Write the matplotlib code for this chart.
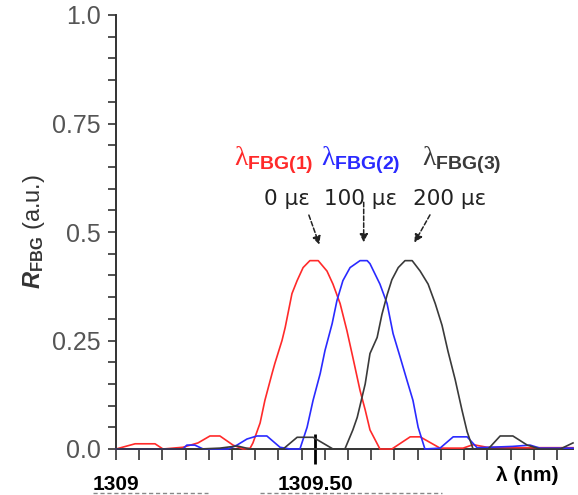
import numpy as np
import matplotlib
matplotlib.use("Agg")
import matplotlib.pyplot as plt
from matplotlib.ticker import FixedLocator
from matplotlib.lines import Line2D

plt.rcParams['mathtext.fontset'] = 'custom'
plt.rcParams['mathtext.rm'] = 'Liberation Serif'
plt.rcParams['mathtext.bf'] = 'Liberation Sans:bold'
plt.rcParams['mathtext.it'] = 'Liberation Sans:bold:italic'

# Daten
wl_red = [1309.000, 1309.048, 1309.098, 1309.118, 1309.168, 1309.206, 1309.236, 1309.261,
          1309.294, 1309.319, 1309.337, 1309.344, 1309.362, 1309.374, 1309.392, 1309.399,
          1309.417, 1309.425, 1309.442, 1309.455, 1309.470, 1309.487, 1309.508, 1309.530,
          1309.545, 1309.563, 1309.580, 1309.595, 1309.613, 1309.626, 1309.638, 1309.663,
          1309.693, 1309.739, 1309.764, 1309.814, 1309.872, 1309.897, 1309.932, 1310.015,
          1310.148]
r_red = [0.0, 0.012, 0.012, 0.0, 0.004, 0.014, 0.03, 0.03,
         0.009, 0.0, 0.002, 0.014, 0.06, 0.112, 0.174, 0.197,
         0.25, 0.28, 0.358, 0.388, 0.418, 0.434, 0.434, 0.41,
         0.38, 0.335, 0.273, 0.211, 0.135, 0.09, 0.044, 0.0,
         0.0, 0.028, 0.028, 0.002, 0.002, 0.01, 0.004, 0.003,
         0.003]

wl_blue = [1309.000, 1309.168, 1309.178, 1309.198, 1309.219, 1309.281, 1309.304, 1309.329,
           1309.354, 1309.379, 1309.412, 1309.437, 1309.462, 1309.480, 1309.495, 1309.513,
           1309.525, 1309.543, 1309.555, 1309.570, 1309.588, 1309.613, 1309.631, 1309.638,
           1309.663, 1309.681, 1309.696, 1309.714, 1309.731, 1309.746, 1309.759, 1309.776,
           1309.814, 1309.847, 1309.882, 1309.907, 1309.940, 1309.997, 1310.040, 1310.065,
           1310.148]
r_blue = [0.0, 0.0, 0.009, 0.009, 0.0, 0.0, 0.009, 0.023,
          0.03, 0.03, 0.004, 0.0, 0.0, 0.05, 0.112, 0.174,
          0.227, 0.289, 0.342, 0.388, 0.418, 0.434, 0.434, 0.427,
          0.38, 0.335, 0.266, 0.211, 0.158, 0.112, 0.05, 0.0,
          0.002, 0.028, 0.028, 0.003, 0.004, 0.006, 0.009, 0.002,
          0.002]

wl_black = [1309.000, 1309.211, 1309.261, 1309.304, 1309.337, 1309.420, 1309.455, 1309.495,
            1309.545, 1309.575, 1309.595, 1309.606, 1309.626, 1309.638, 1309.656, 1309.668,
            1309.681, 1309.693, 1309.709, 1309.726, 1309.744, 1309.764, 1309.784, 1309.802,
            1309.819, 1309.834, 1309.852, 1309.869, 1309.882, 1309.897, 1309.935, 1309.965,
            1309.997, 1310.033, 1310.065, 1310.116, 1310.148]
r_black = [0.0, 0.0, 0.002, 0.007, 0.0, 0.0, 0.027, 0.027,
           0.0, 0.0, 0.044, 0.073, 0.15, 0.22, 0.257, 0.31,
           0.355, 0.39, 0.418, 0.434, 0.434, 0.41, 0.38, 0.335,
           0.285, 0.225, 0.16, 0.09, 0.04, 0.0, 0.0, 0.03,
           0.03, 0.009, 0.0, 0.0, 0.014]

strain_labels = ["0 με", "100 με", "200 με"]
fbg_labels = [r"$\mathrm{\lambda}_{\mathbf{FBG(1)}}$",
              r"$\mathrm{\lambda}_{\mathbf{FBG(2)}}$",
              r"$\mathrm{\lambda}_{\mathbf{FBG(3)}}$"]
colors = ["#ff2a2a", "#2a2aff", "#3a3a3a"]

yticks = [0.0, 0.25, 0.5, 0.75, 1.0]
ytick_labels = ["0.0", "0.25", "0.5", "0.75", "1.0"]
xtick_pos = [1309.0, 1309.5]
xtick_labels = ["1309", "1309.50"]
x_step = 0.0583

# Figur
fig = plt.figure(figsize=(5.78, 4.95), dpi=100)
ax = fig.add_axes([116/578, 46/495, 457/578, 434/495])

for wl, r, c in zip([wl_red, wl_blue, wl_black], [r_red, r_blue, r_black], colors):
    ax.plot(wl, r, color=c, lw=1.2, clip_on=False, zorder=3)

ax.set_xlim(1309.0, 1310.148)
ax.set_ylim(0, 1.0)

# Achsen
ax.spines[['top', 'right']].set_visible(False)
for s in ['left', 'bottom']:
    ax.spines[s].set_color('#333333')
    ax.spines[s].set_linewidth(1.4)
    ax.spines[s].set_zorder(2)

ax.set_yticks(yticks, ytick_labels)
ax.yaxis.set_minor_locator(FixedLocator(np.arange(0, 1.001, 0.05)))
ax.tick_params(axis='y', which='both', direction='out', length=6, width=1.2,
               color='#333333')
ax.tick_params(axis='y', which='major', labelsize=18, labelcolor='#555555', pad=5)
for lab in ax.get_yticklabels():
    lab.set_family('Liberation Sans')

ax.xaxis.remove_overlapping_locs = False
ax.set_xticks(xtick_pos, xtick_labels)
ax.xaxis.set_minor_locator(FixedLocator(1309.0 + x_step * np.arange(20)))
ax.tick_params(axis='x', which='minor', direction='out', length=8, width=1.2,
               color='#333333')
ax.tick_params(axis='x', which='major', direction='inout', length=22, width=2,
               color='black', labelsize=15, pad=8)
for lab in ax.get_xticklabels():
    lab.set_family('Liberation Sans')
    lab.set_fontweight('bold')
ax.xaxis.get_major_ticks()[0].tick1line.set_visible(False)

ax.set_ylabel(r"$\mathit{R}_{\mathbf{FBG}}$ (a.u.)", fontsize=17, color='#333333',
              family='Liberation Sans', labelpad=4)
ax.text(0.899, -0.06, "λ (nm)", transform=ax.transAxes, ha='center', va='center',
        fontsize=15, fontweight='bold', family='Liberation Sans')

# Beschriftungen der Peaks
lab_x = [0.346, 0.536, 0.757]
str_x = [0.374, 0.536, 0.729]
arr_from = [(0.42, 0.545), (0.542, 0.575), (0.69, 0.545)]
arr_to = [(0.447, 0.465), (0.542, 0.47), (0.65, 0.47)]
for i in range(3):
    ax.text(lab_x[i], 0.665, fbg_labels[i], transform=ax.transAxes, ha='center',
            va='center', fontsize=20, color=colors[i])
    ax.text(str_x[i], 0.575, strain_labels[i], transform=ax.transAxes, ha='center',
            va='center', fontsize=15.5, color='#222222', family='DejaVu Sans')
    ax.annotate("", xy=arr_to[i], xytext=arr_from[i], xycoords='axes fraction',
                arrowprops=dict(arrowstyle='-|>', color='#222222', lw=1.1,
                                ls=(0, (3, 1.5)), mutation_scale=12))

# abgeschnittene Zeile unten
fig.add_artist(Line2D([93/578, 208/578], [2/495, 2/495], color='#888888', lw=1,
                      ls=(0, (3, 2))))
fig.add_artist(Line2D([260/578, 442/578], [2/495, 2/495], color='#888888', lw=1,
                      ls=(0, (3, 2))))

fig.savefig("out.png", dpi=100)
